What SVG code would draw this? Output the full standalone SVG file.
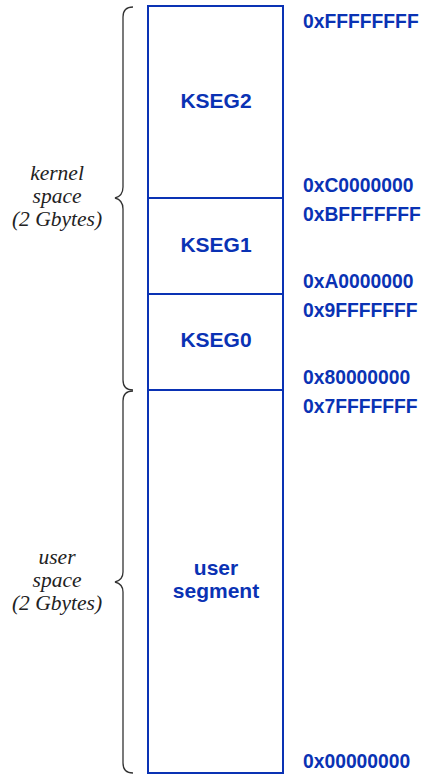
<svg xmlns="http://www.w3.org/2000/svg" width="426" height="775" viewBox="0 0 426 775">
  <style>
    .seg { fill: #ffffff; stroke: #0a32b4; stroke-width: 2; }
    .seglabel { font-family: "Liberation Sans", Arial, sans-serif; font-weight: bold; font-size: 21px; fill: #0a32b4; text-anchor: middle; }
    .addr { font-family: "Liberation Sans", Arial, sans-serif; font-weight: bold; font-size: 19.3px; fill: #0a32b4; }
    .brace { fill: none; stroke: #333333; stroke-width: 1.3; }
    .note { font-family: "Liberation Serif", "Times New Roman", serif; font-style: italic; font-size: 21.5px; fill: #222222; text-anchor: middle; }
  </style>
  <rect width="426" height="775" fill="#ffffff"/>

  <!-- address space segments -->
  <g id="kseg2">
    <rect class="seg" x="148" y="6" width="135" height="192"/>
    <text class="seglabel" x="216" y="108">KSEG2</text>
  </g>
  <g id="kseg1">
    <rect class="seg" x="148" y="198" width="135" height="96"/>
    <text class="seglabel" x="216" y="252">KSEG1</text>
  </g>
  <g id="kseg0">
    <rect class="seg" x="148" y="294" width="135" height="96"/>
    <text class="seglabel" x="216" y="347">KSEG0</text>
  </g>
  <g id="useg">
    <rect class="seg" x="148" y="390" width="135" height="383"/>
    <text class="seglabel" x="216" y="575">user</text>
    <text class="seglabel" x="216" y="598">segment</text>
  </g>

  <!-- boundary addresses -->
  <g id="addresses">
    <text class="addr" x="303" y="28">0xFFFFFFFF</text>
    <text class="addr" x="303" y="192">0xC0000000</text>
    <text class="addr" x="303" y="221">0xBFFFFFFF</text>
    <text class="addr" x="303" y="288">0xA0000000</text>
    <text class="addr" x="303" y="317">0x9FFFFFFF</text>
    <text class="addr" x="303" y="384">0x80000000</text>
    <text class="addr" x="303" y="413">0x7FFFFFFF</text>
    <text class="addr" x="303" y="768">0x00000000</text>
  </g>

  <!-- braces -->
  <g id="connectors">
    <path class="brace" d="M133,7 Q123,7 123,17 L123,187 Q123,196 115,198 Q123,200 123,209 L123,380 Q123,390 133,390"/>
    <path class="brace" d="M133,391 Q123,391 123,401 L123,572 Q123,580 115,582 Q123,584 123,592 L123,763 Q123,773 133,773"/>
  </g>

  <g id="kernel-space">
    <text class="note" x="57" y="180">kernel</text>
    <text class="note" x="57" y="203">space</text>
    <text class="note" x="57" y="226">(2 Gbytes)</text>
  </g>
  <g id="user-space">
    <text class="note" x="57" y="564">user</text>
    <text class="note" x="57" y="587">space</text>
    <text class="note" x="57" y="610">(2 Gbytes)</text>
  </g>
</svg>
